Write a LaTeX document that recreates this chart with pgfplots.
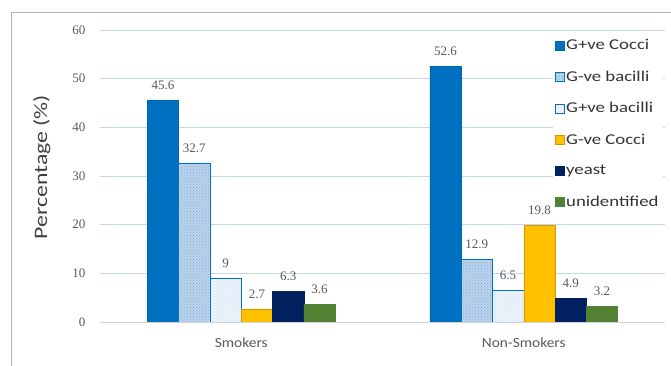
\documentclass[border=0pt]{standalone}
\usepackage{pgfplots}
\pgfplotsset{compat=1.18}
\usepackage{pgfplotstable}
\usepackage{fontspec}
\setmainfont{Carlito}
\newfontfamily\widefont[FakeStretch=1.25]{Carlito}
\newfontfamily\catfont[FakeStretch=1.1]{Carlito}
\newfontfamily\numfont{Liberation Serif}
\usetikzlibrary{patterns}

\definecolor{cA}{RGB}{0,112,192}
\definecolor{cB}{RGB}{190,210,236}
\definecolor{cC}{RGB}{234,241,250}
\definecolor{cD}{RGB}{255,192,0}
\definecolor{cE}{RGB}{0,32,96}
\definecolor{cF}{RGB}{84,130,53}
\definecolor{gridc}{RGB}{200,213,232}
\definecolor{txt}{RGB}{89,89,89}

% bacteria isolated from smokers and non-smokers (%)
\pgfplotstableread{
idx  gpc   gnb   gpb  gnc   yeast  unid
0    45.6  32.7  9    2.7   6.3    3.6
1    52.6  12.9  6.5  19.8  4.9    3.2
}\isolates

\begin{document}
\begin{tikzpicture}
\path[use as bounding box] (0,0) rectangle (671pt,366pt);
% chart frame
\draw[gray!60, line width=0.8pt] (11pt,0pt) -- (11pt,354pt) -- (671pt,354pt);
\begin{axis}[
  at={(100pt,44pt)}, anchor=south west,
  scale only axis, width=565pt, height=292pt,
  ybar=0pt, bar width=31.3pt,
  xmin=-0.5, xmax=1.5, ymin=0, ymax=60,
  xtick={0,1}, xticklabels={Smokers,Non-Smokers},
  ytick={0,10,...,60},
  axis x line*=bottom, axis y line*=left,
  y axis line style={draw=none},
  x axis line style={draw=gray!35, line width=0.8pt, -},
  ymajorgrids, grid style={gridc, line width=0.8pt},
  major tick length=0pt,
  /pgf/number format/assume math mode=true,
  xticklabel style={font=\catfont\fontsize{14}{16}\selectfont, text=txt, yshift=-12pt},
  yticklabel style={font=\numfont\fontsize{13}{15}\selectfont, text=txt, xshift=-11pt},
  ylabel={Percentage (\%)},
  ylabel style={at={(axis description cs:-0.103,0.53)}, anchor=center,
    font=\widefont\fontsize{19}{21}\selectfont, text=black!75},
  nodes near coords,
  every node near coord/.append style={font=\numfont\fontsize{13}{15}\selectfont,
    text=txt, yshift=7pt},
  legend cell align=left,
  legend style={at={(0.801,0.982)}, anchor=north west, draw=none, fill=white,
    font=\widefont\fontsize{15}{17}\selectfont, text=black!80, row sep=15.6pt,
    inner sep=2pt},
  legend image code/.code={\draw[#1] (0pt,-4.5pt) rectangle (9pt,4.5pt);},
]
\addplot[fill=cA, draw=cA!90!black] table[x=idx, y=gpc] {\isolates};
\addplot[fill=cB, draw=cA, postaction={pattern=crosshatch dots, pattern color=cA!55}]
  table[x=idx, y=gnb] {\isolates};
\addplot[fill=cC, draw=cA, postaction={pattern=dots, pattern color=cA!25}]
  table[x=idx, y=gpb] {\isolates};
\addplot[fill=cD, draw=cD!80!black] table[x=idx, y=gnc] {\isolates};
\addplot[fill=cE, draw=cE] table[x=idx, y=yeast] {\isolates};
\addplot[fill=cF, draw=cF] table[x=idx, y=unid] {\isolates};
\legend{G+ve Cocci, G-ve bacilli, G+ve bacilli, G-ve Cocci, yeast, unidentified}
\end{axis}
\end{tikzpicture}
\end{document}
